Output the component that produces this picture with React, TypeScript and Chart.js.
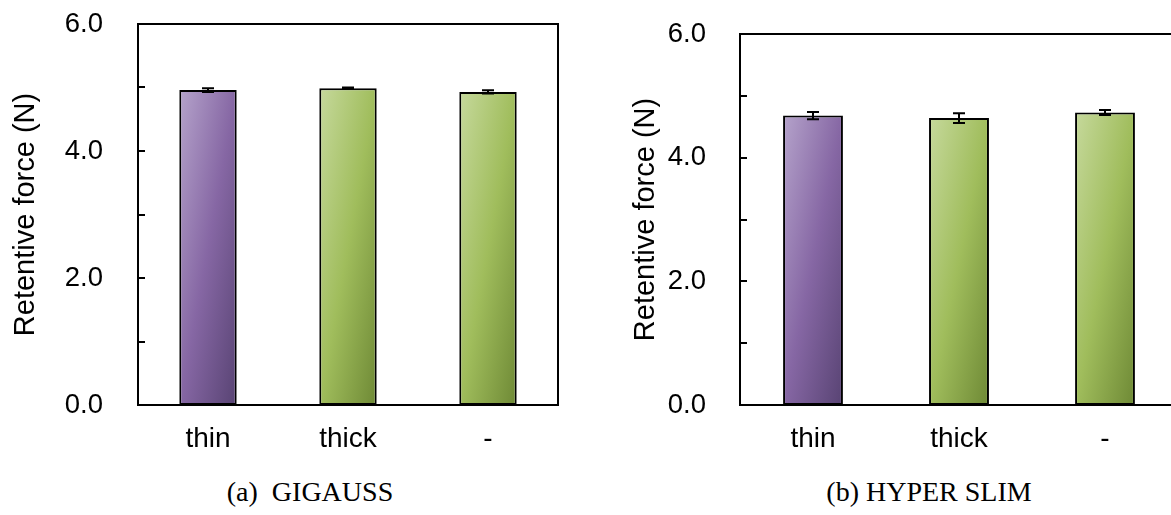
import React, { useEffect, useRef } from "react";
import { Chart, registerables } from "chart.js";

Chart.register(...registerables);

const categories = ["thin", "thick", "-"];
const gigaussValues = [4.96, 4.99, 4.93];
const gigaussErrors = [0.03, 0.01, 0.025];
const hyperSlimValues = [4.68, 4.64, 4.73];
const hyperSlimErrors = [0.06, 0.08, 0.04];
const yTickValues = [0, 2, 4, 6];
const barColorKinds = ["purple", "green", "green"];
const captionA = "(a)  GIGAUSS";
const captionB = "(b) HYPER SLIM";
const yTitle = "Retentive force (N)";

const SANS = "'Liberation Sans', Arial, sans-serif";
const SERIF = "'Liberation Serif', 'Times New Roman', serif";

const palettes: Record<string, string[]> = {
  purple: ["#b5a3cb", "#8667a4", "#584373"],
  green: ["#c6d99c", "#a0bd5c", "#6e8935"],
};

type PanelCfg = {
  values: number[];
  errors: number[];
  yAxisWidth: number;
  tickPad: number;
  padTop: number;
  padRight: number;
  height: number;
  titlePad: number;
};

function makeChart(canvas: HTMLCanvasElement, cfg: PanelCfg) {
  const barPct = 0.41;
  const gradientFor = (c: any) => {
    const chart = c.chart;
    const kind = barColorKinds[c.dataIndex] || "green";
    const pal = palettes[kind];
    const xs = chart.scales && chart.scales.x;
    const ys = chart.scales && chart.scales.y;
    if (!chart.chartArea || !xs || !ys || c.type !== "data") return pal[1];
    const xc = xs.getPixelForValue(c.dataIndex);
    const w = (xs.width / categories.length) * barPct;
    const top = ys.getPixelForValue(cfg.values[c.dataIndex]);
    const bottom = ys.getPixelForValue(0);
    const h = Math.max(1, bottom - top);
    const gx = 1 / (2 * w);
    const gy = 1 / (2 * h);
    const n2 = gx * gx + gy * gy;
    const dx = gx / n2;
    const dy = gy / n2;
    const x0 = xc - w / 2;
    const g = chart.ctx.createLinearGradient(x0, top, x0 + dx, top + dy);
    g.addColorStop(0, pal[0]);
    g.addColorStop(0.5, pal[1]);
    g.addColorStop(1, pal[2]);
    return g;
  };

  const framePlugin = {
    id: "frameAndErrors",
    afterDatasetsDraw(chart: any) {
      const { ctx, chartArea } = chart;
      const xs = chart.scales.x;
      const ys = chart.scales.y;
      ctx.save();
      ctx.strokeStyle = "#000";
      ctx.lineWidth = 2;
      cfg.values.forEach((v, i) => {
        const e = cfg.errors[i];
        const x = xs.getPixelForValue(i);
        const yt = ys.getPixelForValue(v + e);
        const yb = ys.getPixelForValue(v - e);
        ctx.beginPath();
        ctx.moveTo(x, yt);
        ctx.lineTo(x, yb);
        ctx.moveTo(x - 6, yt);
        ctx.lineTo(x + 6, yt);
        ctx.moveTo(x - 6, yb);
        ctx.lineTo(x + 6, yb);
        ctx.stroke();
      });
      ctx.strokeRect(chartArea.left, chartArea.top, chartArea.right - chartArea.left, chartArea.bottom - chartArea.top);
      for (let t = 0; t <= 6; t += 1) {
        const y = Math.round(ys.getPixelForValue(t));
        ctx.beginPath();
        ctx.moveTo(chartArea.left, y);
        ctx.lineTo(chartArea.left + 7, y);
        ctx.stroke();
      }
      ctx.restore();
    },
  };

  return new Chart(canvas, {
    type: "bar",
    data: {
      labels: categories,
      datasets: [
        {
          data: cfg.values,
          backgroundColor: gradientFor as any,
          borderColor: "#000",
          borderWidth: 2,
          borderSkipped: false,
          barPercentage: barPct,
          categoryPercentage: 1,
        },
      ],
    },
    options: {
      responsive: false,
      animation: false,
      events: [],
      layout: { padding: { top: cfg.padTop, right: cfg.padRight, left: 0, bottom: 0 } },
      plugins: { legend: { display: false }, tooltip: { enabled: false }, title: { display: false } },
      scales: {
        x: {
          type: "category",
          grid: { display: false, drawTicks: false },
          border: { display: false },
          ticks: { color: "#000", font: { family: SANS, size: 28 }, padding: 17, maxRotation: 0 },
          afterFit: (s: any) => {
            s.height = cfg.height - 405;
            s.paddingLeft = 0;
            s.paddingRight = 0;
          },
        },
        y: {
          type: "linear",
          min: 0,
          max: 6,
          afterBuildTicks: (s: any) => {
            s.ticks = yTickValues.map((v) => ({ value: v }));
          },
          grid: { display: false, drawTicks: false },
          border: { display: false },
          ticks: {
            color: "#000",
            font: { family: SANS, size: 27.5 },
            padding: cfg.tickPad,
            callback: (v: any) => Number(v).toFixed(1),
          },
          title: {
            display: true,
            text: yTitle,
            color: "#000",
            font: { family: SANS, size: 29 },
            padding: { top: cfg.titlePad, bottom: 0 },
          },
          afterFit: (s: any) => {
            s.width = cfg.yAxisWidth;
            s.paddingTop = 0;
            s.paddingBottom = 0;
          },
        },
      },
    },
    plugins: [framePlugin],
  });
}

function Panel({ cfg, left, width }: { cfg: PanelCfg; left: number; width: number }) {
  const ref = useRef<HTMLCanvasElement | null>(null);
  useEffect(() => {
    if (!ref.current) return;
    const ch = makeChart(ref.current, cfg);
    return () => ch.destroy();
  }, []);
  return (
    <div style={{ position: "absolute", left, top: 0, width, height: cfg.height }}>
      <canvas ref={ref} width={width} height={cfg.height} style={{ width, height: cfg.height, display: "block" }} />
    </div>
  );
}

export default function App() {
  const leftCfg: PanelCfg = {
    values: gigaussValues,
    errors: gigaussErrors,
    yAxisWidth: 138,
    tickPad: 35,
    padTop: 24,
    padRight: 42,
    height: 470,
    titlePad: 9,
  };
  const rightCfg: PanelCfg = {
    values: hyperSlimValues,
    errors: hyperSlimErrors,
    yAxisWidth: 120,
    tickPad: 34,
    padTop: 34,
    padRight: 42,
    height: 470,
    titlePad: 9,
  };
  const capStyle: React.CSSProperties = {
    position: "absolute",
    top: 476,
    height: 32,
    lineHeight: "32px",
    fontFamily: SERIF,
    fontSize: 28,
    color: "#000",
    whiteSpace: "pre",
    textAlign: "center",
    width: 400,
  };
  return (
    <div
      style={{
        position: "fixed",
        left: 0,
        top: 0,
        width: 1171,
        height: 515,
        overflow: "hidden",
        background: "#fff",
      }}
    >
      <Panel cfg={leftCfg} left={0} width={600} />
      <Panel cfg={rightCfg} left={620} width={600} />
      <div style={{ ...capStyle, left: 310 - 200 }}>{captionA}</div>
      <div style={{ ...capStyle, left: 929 - 200 }}>{captionB}</div>
    </div>
  );
}
